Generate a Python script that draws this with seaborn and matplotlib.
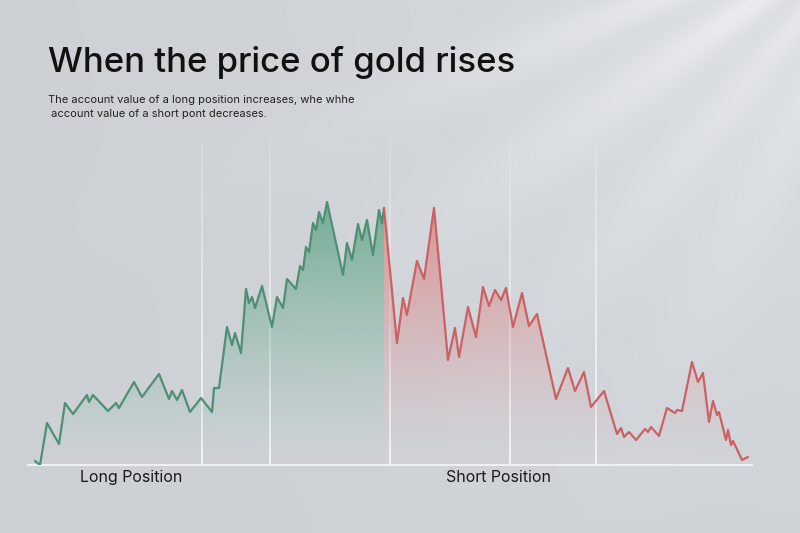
import numpy as np
import matplotlib.pyplot as plt
import seaborn as sns
from matplotlib.patches import Polygon
from matplotlib.colors import to_rgb

# data (x = trading step, y = account value)
long_day = [0, 5, 12, 24, 30, 38, 52, 54, 58, 73, 81, 84, 99, 107, 124, 134, 137,
            142, 147, 155, 166, 177, 179, 184, 192, 197, 200, 206, 211, 214, 217,
            220, 227, 237, 242, 248, 252, 261, 265, 268, 271, 274, 278, 281, 284,
            288, 292, 308, 312, 317, 323, 327, 332, 338, 344, 347, 349]
long_value = [4, 0, 42, 21, 62, 51, 70, 63, 70, 54, 62, 57, 83, 68, 91, 66, 74,
              65, 75, 53, 67, 53, 77, 77, 138, 120, 132, 112, 176, 162, 168,
              157, 179, 138, 168, 157, 186, 176, 199, 195, 218, 213, 242, 235, 253,
              242, 263, 190, 222, 205, 241, 225, 245, 210, 255, 242, 257]

short_day = [349, 362, 368, 372, 382, 389, 399, 413, 420, 424, 433, 441, 448, 454,
             460, 466, 471, 478, 487, 494, 502, 521, 533, 540, 549, 556, 569, 582,
             586, 589, 594, 601, 610, 613, 616, 624, 632, 640, 642, 647, 657, 663,
             668, 674, 678, 682, 684, 691, 693, 696, 698, 707, 713]
short_value = [257, 122, 167, 150, 204, 186, 257, 105, 137, 108, 158, 128, 178, 159,
               175, 165, 177, 138, 172, 139, 151, 66, 97, 74, 93, 58, 74, 31,
               37, 28, 33, 25, 36, 33, 38, 29, 57, 52, 55, 54, 103, 83,
               92, 43, 64, 50, 53, 25, 35, 20, 24, 5, 8]

divider_days = [167, 235, 355, 475, 561]
position_labels = ["Long Position", "Short Position"]
label_days = [96, 463]

title = "When the price of gold rises"
subtitle = ("The account value of a long position increases, whe whhe\n"
            " account value of a short pont decreases.")

green_line = "#4f8f74"
green_fill = "#5fa585"
red_line = "#cc6163"
red_fill = "#dc8c8c"

sns.set_theme(style="white")
plt.rcParams['font.family'] = ['Inter', 'DejaVu Sans']

fig = plt.figure(figsize=(8, 5.33), dpi=100)

# soft grey backdrop with light rays coming from the top right
bg = fig.add_axes([0, 0, 1, 1], zorder=0)
h, w = 533, 800
yy, xx = np.mgrid[0:h, 0:w]
base = np.array(to_rgb("#cdd1d6"))
sx, sy = 900, -100
d = np.hypot(xx - sx, yy - sy)
ang = np.degrees(np.arctan2(yy - sy, sx - xx))
glow = 0.30 * np.exp(-(d / 520) ** 2)
bands = np.zeros_like(d)
for a, wd, amp in [(22, 3.5, 0.5), (35, 5, 0.5), (50, 5, 0.35), (64, 6, 0.25)]:
    bands += amp * np.exp(-((ang - a) / wd) ** 2)
bands *= np.exp(-(d / 430) ** 2)
light = np.clip(glow + bands, 0, 0.85)[..., None]
img = base * (1 - light) + np.array([0.97, 0.975, 0.98]) * light
bg.imshow(img, extent=[0, 1, 0, 1], aspect='auto')
bg.axis('off')

ax = fig.add_axes([28 / 800, 68 / 533, 724 / 800, 325 / 533], zorder=1)
ax.patch.set_alpha(0)


def gradient_fill(xs, ys, color, top_alpha):
    verts = [(xs[0], 0)] + list(zip(xs, ys)) + [(xs[-1], 0)]
    poly = Polygon(verts, closed=True, facecolor='none', edgecolor='none')
    ax.add_patch(poly)
    grad = np.zeros((100, 1, 4))
    grad[..., :3] = to_rgb(color)
    grad[..., 3] = np.linspace(0, top_alpha, 100)[:, None] ** 1.3
    im = ax.imshow(grad, extent=[min(xs), max(xs), 0, max(ys)], origin='lower',
                   aspect='auto', zorder=2)
    im.set_clip_path(poly)


# faint white divider lines that fade out towards the top
n_seg = 30
edges = np.linspace(0, 325, n_seg + 1)
for x in divider_days:
    for i in range(n_seg):
        a = 0.8 * (1 - i / n_seg) ** 0.8 + 0.1
        ax.plot([x, x], [edges[i], edges[i + 1]], color='white', lw=1.2,
                alpha=a, solid_capstyle='butt', zorder=1)

gradient_fill(long_day, long_value, green_fill, 0.85)
gradient_fill(short_day, short_value, red_fill, 0.9)

sns.lineplot(x=long_day, y=long_value, color=green_line, lw=1.6, ax=ax,
             sort=False, zorder=3)
sns.lineplot(x=short_day, y=short_value, color=red_line, lw=1.6, ax=ax,
             sort=False, zorder=3)
ax.set_xlim(-7, 717)
ax.set_ylim(0, 325)

ax.set_xticks([])
ax.set_yticks([])
for s in ['top', 'left', 'right']:
    ax.spines[s].set_visible(False)
ax.spines['bottom'].set_color('#eef0f2')
ax.spines['bottom'].set_linewidth(1.5)

for lab, day in zip(position_labels, label_days):
    ax.text(day, -0.037, lab, transform=ax.get_xaxis_transform(),
            ha='center', va='center', fontsize=11.5, color='#1a1a1a')

fig.text(48 / 800, 1 - 62 / 533, title, fontsize=25, va='center',
         color='#111111', fontweight='medium')
fig.text(48 / 800, 1 - 95 / 533, subtitle, fontsize=8, va='top',
         color='#222222', linespacing=1.45)

fig.savefig("out.png", dpi=100)
